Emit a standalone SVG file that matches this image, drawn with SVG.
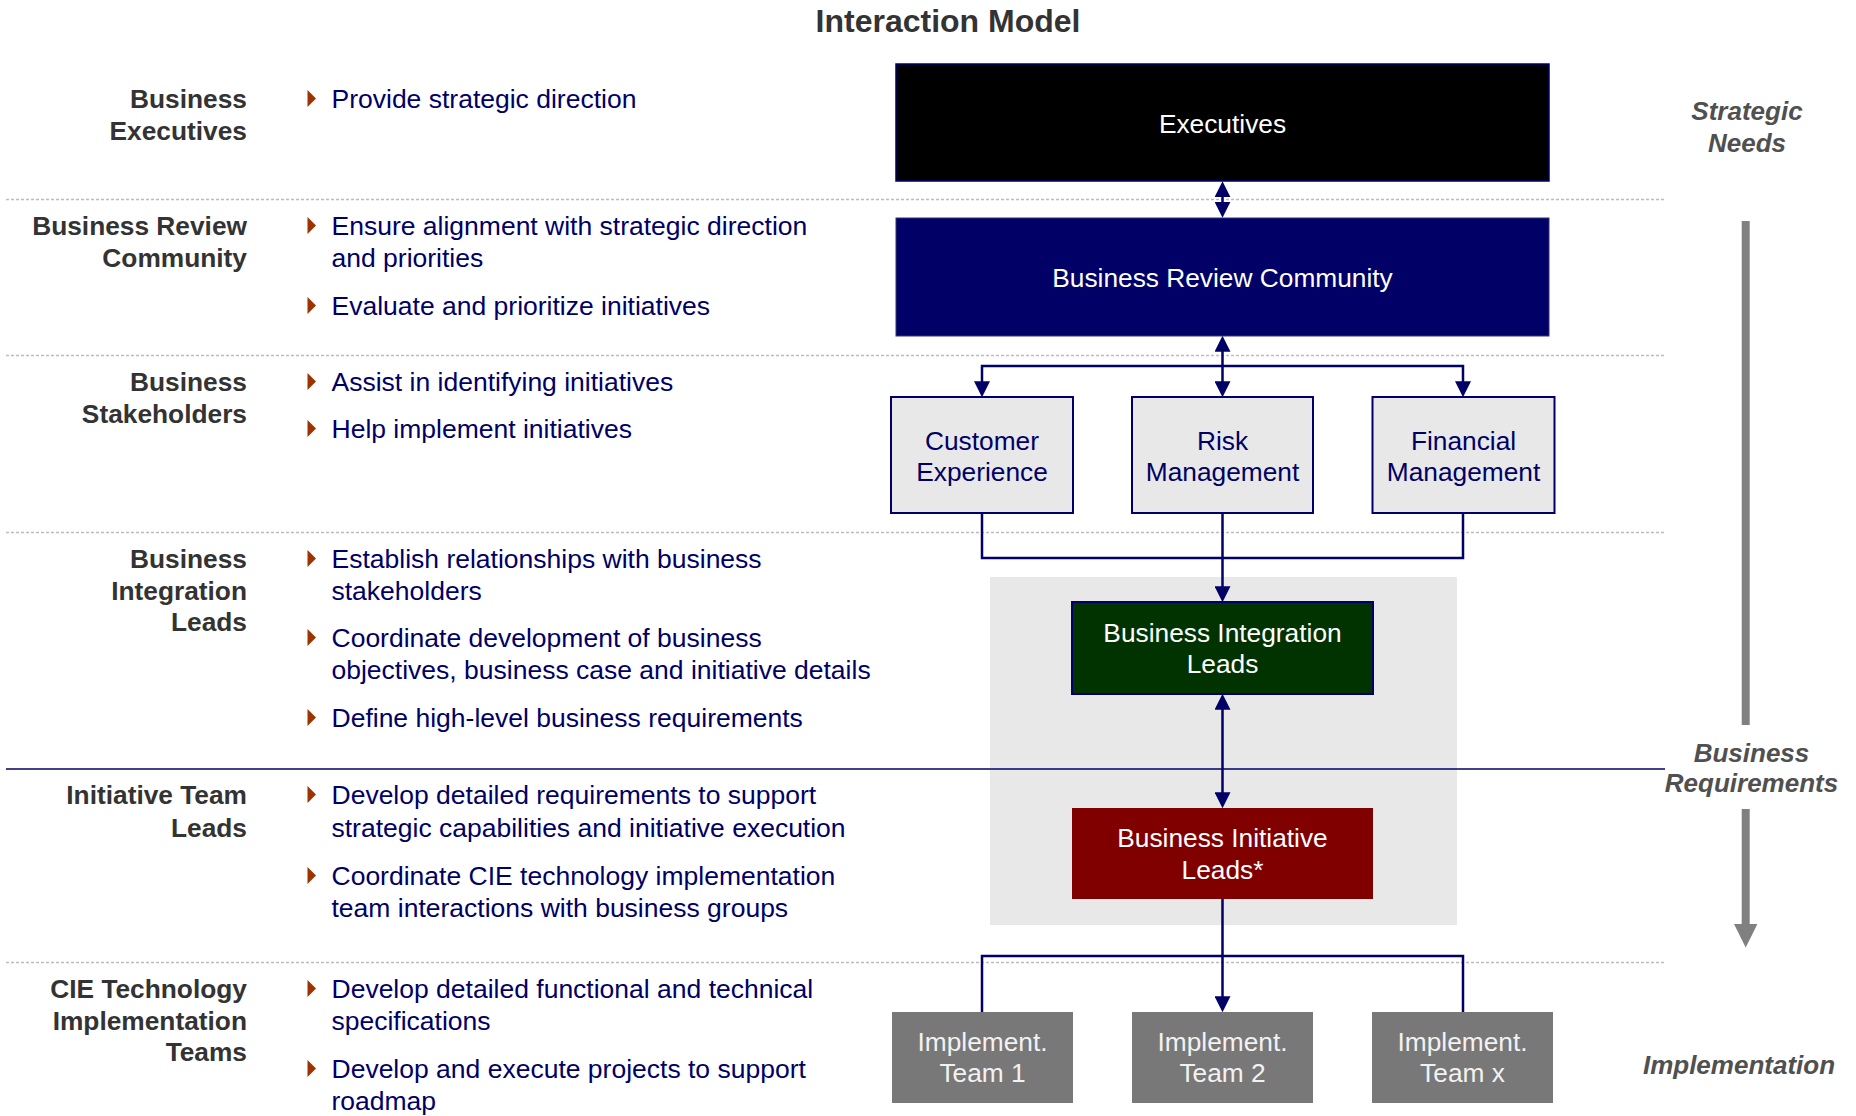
<svg xmlns="http://www.w3.org/2000/svg" width="1856" height="1116" viewBox="0 0 1856 1116">
<defs>
<style>
text{font-family:"Liberation Sans",Arial,sans-serif;}
.title{font-size:32px;font-weight:bold;fill:#333333;text-anchor:middle;}
.lbl{font-size:26.3px;font-weight:bold;fill:#333333;text-anchor:end;}
.bt{font-size:26.5px;fill:#000066;}
.side{font-size:26px;font-weight:bold;font-style:italic;fill:#505050;text-anchor:middle;}
.nt{font-size:26.3px;text-anchor:middle;}
.w{fill:#ffffff;}
.nv{fill:#000066;}
.lt{fill:#f2f2f2;}
.dash{stroke:#bdbdbd;stroke-width:1.3;stroke-dasharray:3 2;fill:none;}
.conn path{stroke:#000066;stroke-width:2.5;fill:none;}
.bul{fill:#9c3300;}
.sub{fill:#e8e8e8;stroke:#000066;stroke-width:2;}
.team{fill:#787878;}
</style>
<marker id="ah" markerUnits="userSpaceOnUse" markerWidth="16" markerHeight="16" refX="11" refY="7.5" orient="auto-start-reverse" viewBox="0 0 15 15">
<path d="M0,0 L15,7.5 L0,15 Z" fill="#000066"/>
</marker>
<path id="tri" d="M0,0 L8.5,8.5 L0,17 Z"/>
</defs>
<rect width="1856" height="1116" fill="#ffffff"/>

<text class="title" x="948" y="32">Interaction Model</text>

<g id="separators">
<line class="dash" x1="6" y1="199.5" x2="1665" y2="199.5"/>
<line class="dash" x1="6" y1="355.5" x2="1665" y2="355.5"/>
<line class="dash" x1="6" y1="532.5" x2="1665" y2="532.5"/>
<line class="dash" x1="6" y1="962.5" x2="1665" y2="962.5"/>
</g>

<rect id="group-bg" x="990" y="577" width="467" height="348" fill="#e8e8e8"/>
<line x1="6" y1="769" x2="1665" y2="769" stroke="#000066" stroke-width="1.5"/>

<g id="left-labels">
<text class="lbl" x="247" y="108">Business</text>
<text class="lbl" x="247" y="140">Executives</text>
<text class="lbl" x="247" y="235">Business Review</text>
<text class="lbl" x="247" y="267">Community</text>
<text class="lbl" x="247" y="391">Business</text>
<text class="lbl" x="247" y="423">Stakeholders</text>
<text class="lbl" x="247" y="568">Business</text>
<text class="lbl" x="247" y="600">Integration</text>
<text class="lbl" x="247" y="631">Leads</text>
<text class="lbl" x="247" y="804">Initiative Team</text>
<text class="lbl" x="247" y="836.5">Leads</text>
<text class="lbl" x="247" y="998">CIE Technology</text>
<text class="lbl" x="247" y="1030">Implementation</text>
<text class="lbl" x="247" y="1061">Teams</text>
</g>

<g id="bullets">
<use href="#tri" class="bul" x="307.5" y="90"/>
<text class="bt" x="331.5" y="108">Provide strategic direction</text>
<use href="#tri" class="bul" x="307.5" y="217"/>
<text class="bt" x="331.5" y="235">Ensure alignment with strategic direction</text>
<text class="bt" x="331.5" y="267">and priorities</text>
<use href="#tri" class="bul" x="307.5" y="297"/>
<text class="bt" x="331.5" y="315">Evaluate and prioritize initiatives</text>
<use href="#tri" class="bul" x="307.5" y="373"/>
<text class="bt" x="331.5" y="391">Assist in identifying initiatives</text>
<use href="#tri" class="bul" x="307.5" y="420"/>
<text class="bt" x="331.5" y="438">Help implement initiatives</text>
<use href="#tri" class="bul" x="307.5" y="550"/>
<text class="bt" x="331.5" y="568">Establish relationships with business</text>
<text class="bt" x="331.5" y="600">stakeholders</text>
<use href="#tri" class="bul" x="307.5" y="629"/>
<text class="bt" x="331.5" y="647">Coordinate development of business</text>
<text class="bt" x="331.5" y="679">objectives, business case and initiative details</text>
<use href="#tri" class="bul" x="307.5" y="709"/>
<text class="bt" x="331.5" y="727">Define high-level business requirements</text>
<use href="#tri" class="bul" x="307.5" y="786"/>
<text class="bt" x="331.5" y="804">Develop detailed requirements to support</text>
<text class="bt" x="331.5" y="836.5">strategic capabilities and initiative execution</text>
<use href="#tri" class="bul" x="307.5" y="867"/>
<text class="bt" x="331.5" y="885">Coordinate CIE technology implementation</text>
<text class="bt" x="331.5" y="916.5">team interactions with business groups</text>
<use href="#tri" class="bul" x="307.5" y="980"/>
<text class="bt" x="331.5" y="998">Develop detailed functional and technical</text>
<text class="bt" x="331.5" y="1030">specifications</text>
<use href="#tri" class="bul" x="307.5" y="1060"/>
<text class="bt" x="331.5" y="1078">Develop and execute projects to support</text>
<text class="bt" x="331.5" y="1110">roadmap</text>
</g>

<g id="connectors" class="conn">
<path d="M1222.5,185.5 V213.5" marker-start="url(#ah)" marker-end="url(#ah)"/>
<path d="M1222.5,340 V393" marker-start="url(#ah)" marker-end="url(#ah)"/>
<path d="M982,393 V366 H1463 V393" marker-start="url(#ah)" marker-end="url(#ah)"/>
<path d="M982,513 V558 H1463 V513"/>
<path d="M1222.5,513 V598" marker-end="url(#ah)"/>
<path d="M1222.5,698 V804" marker-start="url(#ah)" marker-end="url(#ah)"/>
<path d="M982,1012 V956 H1463 V1012"/>
<path d="M1222.5,899 V1008" marker-end="url(#ah)"/>
</g>

<g id="node-executives">
<rect x="896" y="64" width="653" height="117" fill="#000000" stroke="#000066" stroke-width="1.5"/>
<text class="nt w" x="1222.5" y="132.5">Executives</text>
</g>
<g id="node-brc">
<rect x="896" y="218" width="653" height="118" fill="#000066" stroke="#33337a" stroke-width="1"/>
<text class="nt w" x="1222.5" y="286.5">Business Review Community</text>
</g>
<g id="node-customer">
<rect class="sub" x="891" y="397" width="182" height="116"/>
<text class="nt nv" x="982" y="449.5">Customer</text>
<text class="nt nv" x="982" y="481">Experience</text>
</g>
<g id="node-risk">
<rect class="sub" x="1132" y="397" width="181" height="116"/>
<text class="nt nv" x="1222.5" y="449.5">Risk</text>
<text class="nt nv" x="1222.5" y="481">Management</text>
</g>
<g id="node-financial">
<rect class="sub" x="1372.5" y="397" width="182" height="116"/>
<text class="nt nv" x="1463.5" y="449.5">Financial</text>
<text class="nt nv" x="1463.5" y="481">Management</text>
</g>
<g id="node-bil">
<rect x="1072" y="602" width="301" height="92" fill="#003300" stroke="#000066" stroke-width="2"/>
<text class="nt w" x="1222.5" y="641.7">Business Integration</text>
<text class="nt w" x="1222.5" y="673.3">Leads</text>
</g>
<g id="node-binitl">
<rect x="1072" y="808" width="301" height="91" fill="#800000"/>
<text class="nt w" x="1222.5" y="847.3">Business Initiative</text>
<text class="nt w" x="1222.5" y="879">Leads*</text>
</g>
<g id="node-team1">
<rect class="team" x="892" y="1012" width="181" height="91"/>
<text class="nt lt" x="982.5" y="1050.7">Implement.</text>
<text class="nt lt" x="982.5" y="1082.3">Team 1</text>
</g>
<g id="node-team2">
<rect class="team" x="1132" y="1012" width="181" height="91"/>
<text class="nt lt" x="1222.5" y="1050.7">Implement.</text>
<text class="nt lt" x="1222.5" y="1082.3">Team 2</text>
</g>
<g id="node-teamx">
<rect class="team" x="1372" y="1012" width="181" height="91"/>
<text class="nt lt" x="1462.5" y="1050.7">Implement.</text>
<text class="nt lt" x="1462.5" y="1082.3">Team x</text>
</g>

<g id="flow-arrow" fill="#808080">
<rect x="1741.7" y="221" width="8" height="504"/>
<rect x="1741.7" y="809" width="8" height="116"/>
<polygon points="1734,924 1757.4,924 1745.7,947.5"/>
</g>
<g id="side-labels">
<text class="side" x="1747" y="119.5">Strategic</text>
<text class="side" x="1747" y="151.5">Needs</text>
<text class="side" x="1751.5" y="761.7">Business</text>
<text class="side" x="1751.5" y="792">Requirements</text>
<text class="side" x="1739" y="1073.5">Implementation</text>
</g>
</svg>
